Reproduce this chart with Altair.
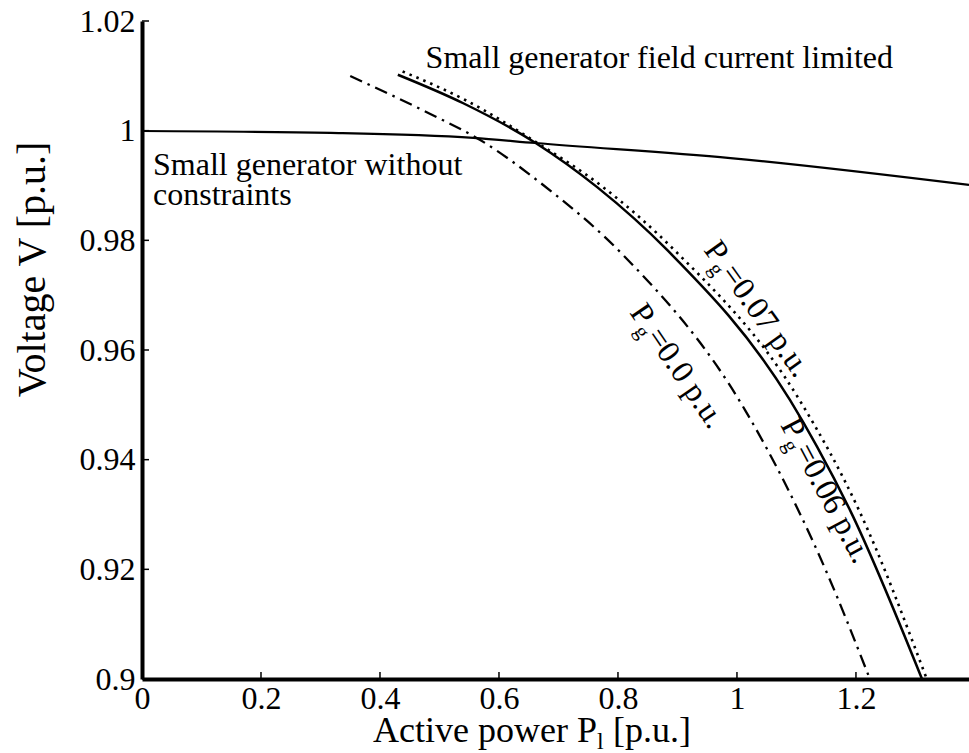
import altair as alt
import pandas as pd

FONT = "Liberation Serif"

# ---- data ----
# Small generator without constraints (solid, nearly flat)
flat_x = [0.0, 0.317, 0.557, 0.661, 0.989, 1.39]
flat_y = [0.99994, 0.9996, 0.9987, 0.99775, 0.9950, 0.9901]

# Pg = 0.06 p.u. (solid)
pg06_x = [0.430, 0.540, 0.661, 0.765, 0.883, 1.089, 1.135, 1.190, 1.311]
pg06_y = [1.0102, 1.0050, 0.9978, 0.9897, 0.9782, 0.9509, 0.9423, 0.9308, 0.900]

# Pg = 0.07 p.u. (dotted)
pg07_x = [0.438, 0.545, 0.661, 0.775, 0.895, 1.105, 1.205, 1.319]
pg07_y = [1.0108, 1.0055, 0.9980, 0.9897, 0.9782, 0.9509, 0.9308, 0.900]

# Pg = 0.0 p.u. (dash-dot)
pg00_x = [0.350, 0.4846, 0.5685, 0.6743, 0.8087, 1.0136, 1.1513, 1.2234]
pg00_y = [1.00997, 1.00304, 0.99830, 0.99009, 0.97732, 0.94905, 0.91933, 0.900]

x_ticks = [0, 0.2, 0.4, 0.6, 0.8, 1.0, 1.2]
y_ticks = [0.9, 0.92, 0.94, 0.96, 0.98, 1.0, 1.02]

notes_text = ["Small generator field current limited", "Small generator without", "constraints"]
notes_x = [0.4767, 0.0185, 0.0185]
notes_y = [1.01143, 0.99191, 0.98644]

pg_values = ["=0.07 p.u.", "=0.0 p.u.", "=0.06 p.u."]
pg_x = [0.943, 0.8187, 1.0722]
pg_y = [0.97825, 0.96685, 0.94633]
pg_angle = [54.4, 55.7, 61.9]

W, H = 827, 658

xs = alt.Scale(domain=[0, 1.39], nice=False, zero=False)
ys = alt.Scale(domain=[0.9, 1.02], nice=False, zero=False)

xaxis = alt.Axis(values=x_ticks, format="~g", labelFont=FONT, labelFontSize=32,
                 labelColor="black", tickSize=0, labelPadding=4, domainWidth=4,
                 domainColor="black", grid=False, title="", labelFlush=False,
                 labelOverlap=False)
yaxis = alt.Axis(values=y_ticks, format="~g", labelFont=FONT, labelFontSize=32,
                 labelColor="black", tickSize=0, labelPadding=7, domainWidth=4,
                 domainColor="black", grid=False, title="Voltage V [p.u.]",
                 titleFont=FONT, titleFontSize=40, titleFontWeight="normal",
                 titleColor="black", titleAngle=270, titleX=-98, titleY=248,
                 titleAlign="center", titleBaseline="alphabetic",
                 labelFlush=False, labelOverlap=False)

X = alt.X("x:Q", scale=xs, axis=xaxis)
Y = alt.Y("y:Q", scale=ys, axis=yaxis)


def line(xv, yv, width, dash=None):
    df = pd.DataFrame({"x": xv, "y": yv})
    kw = dict(color="black", strokeWidth=width, interpolate="monotone", clip=True)
    if dash:
        kw["strokeDash"] = dash
    return alt.Chart(df).mark_line(**kw).encode(x=X, y=Y)


flat = line(flat_x, flat_y, 2.2)
c06 = line(pg06_x, pg06_y, 2.5)
c07 = line(pg07_x, pg07_y, 2.6, [2.5, 5])
c00 = line(pg00_x, pg00_y, 2.3, [13, 6, 2.5, 6])

xt = alt.Chart(pd.DataFrame({"x": x_ticks})).mark_rule(color="black", strokeWidth=1.5).encode(
    x=X, y=alt.value(H), y2=alt.value(H - 7))
yt = alt.Chart(pd.DataFrame({"y": y_ticks})).mark_rule(color="black", strokeWidth=1.5).encode(
    y=Y, x=alt.value(0), x2=alt.value(7))

notes_df = pd.DataFrame({"x": notes_x, "y": notes_y, "t": notes_text})
notes = alt.Chart(notes_df).mark_text(font=FONT, fontSize=32, align="left",
                                      baseline="alphabetic", color="black").encode(
    x=X, y=Y, text="t:N")

pg_df = pd.DataFrame({"x": pg_x, "y": pg_y, "t": pg_values, "a": pg_angle})
pg_P = alt.Chart(pg_df).mark_text(font=FONT, fontSize=32, align="left",
                                  baseline="alphabetic", color="black").encode(
    x=X, y=Y, angle=alt.Angle("a:Q", scale=None), text=alt.value("P"))
pg_g = alt.Chart(pg_df).mark_text(font=FONT, fontSize=21, align="left",
                                  baseline="alphabetic", color="black", dx=18, dy=7).encode(
    x=X, y=Y, angle=alt.Angle("a:Q", scale=None), text=alt.value("g"))
pg_v = alt.Chart(pg_df).mark_text(font=FONT, fontSize=32, align="left",
                                  baseline="alphabetic", color="black", dx=29).encode(
    x=X, y=Y, angle=alt.Angle("a:Q", scale=None), text="t:N")

# x-axis title with subscript
xt_main = alt.Chart(pd.DataFrame({"t": ["Active power P"]})).mark_text(
    font=FONT, fontSize=36, align="left", baseline="alphabetic", color="black").encode(
    x=alt.value(231), y=alt.value(721), text="t:N")
xt_sub = alt.Chart(pd.DataFrame({"t": ["l"]})).mark_text(
    font=FONT, fontSize=24, align="left", baseline="alphabetic", color="black").encode(
    x=alt.value(231 + 224), y=alt.value(728), text="t:N")
xt_rest = alt.Chart(pd.DataFrame({"t": ["[p.u.]"]})).mark_text(
    font=FONT, fontSize=36, align="left", baseline="alphabetic", color="black").encode(
    x=alt.value(231 + 240), y=alt.value(721), text="t:N")

chart = alt.layer(flat, c00, c07, c06, xt, yt, notes, pg_P, pg_g, pg_v,
                  xt_main, xt_sub, xt_rest).properties(
    width=W, height=H,
    autosize=alt.AutoSizeParams(type="none"),
    padding={"left": 142, "top": 21, "right": 0, "bottom": 74},
    background="white",
).configure_view(stroke=None)

chart.save("out.html", embed_options={"renderer": "svg", "actions": False})
